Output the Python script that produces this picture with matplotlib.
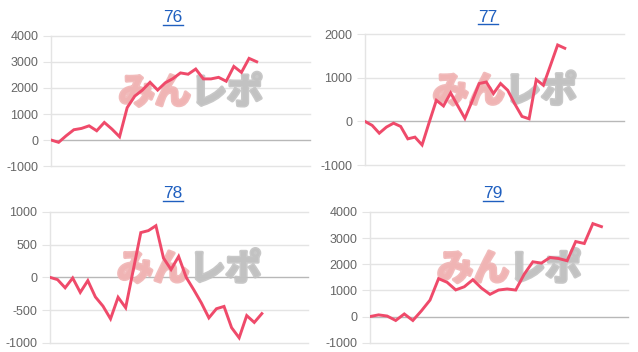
import matplotlib
matplotlib.use('Agg')
import matplotlib.pyplot as plt
from matplotlib.lines import Line2D
import matplotlib.patheffects as pe

# ---- data ----
titles = ['76', '77', '78', '79']

values_76 = [0, -90, 165, 395, 445, 545, 355, 675, 420, 125, 1245, 1690, 1920, 2220,
             1920, 2200, 2360, 2580, 2530, 2730, 2350, 2350, 2410, 2260, 2830, 2600,
             3140, 3010]
values_77 = [0, -90, -270, -130, -40, -115, -400, -360, -540, -20, 485, 355, 655, 360,
             70, 460, 870, 905, 640, 870, 715, 400, 115, 60, 960, 830, 1290, 1755, 1680]
values_78 = [0, -35, -160, -10, -230, -50, -300, -440, -635, -305, -465, 110, 685, 715,
             790, 295, 120, 320, 0, -190, -390, -620, -480, -445, -770, -925, -585,
             -690, -555]
values_79 = [0, 65, 20, -150, 100, -150, 220, 630, 1450, 1310, 1020, 1140, 1410, 1090,
             850, 1015, 1055, 1015, 1625, 2095, 2045, 2260, 2220, 2135, 2870, 2795,
             3555, 3440]

yticks_76 = [-1000, 0, 1000, 2000, 3000, 4000]
yticks_77 = [-1000, 0, 1000, 2000]
yticks_78 = [-1000, -500, 0, 500, 1000]
yticks_79 = [-1000, 0, 1000, 2000, 3000, 4000]

series = [values_76, values_77, values_78, values_79]
ytick_sets = [yticks_76, yticks_77, yticks_78, yticks_79]

# ---- layout (pixels) ----
W, H = 638, 352
boxes = [(51, 310, 36, 166), (365, 624, 34.3, 165), (50, 308, 212, 342.7), (370, 628, 212, 342.7)]
slots = [34, 36.3, 34.1, 30.1]
title_pos = [(173, 18), (488, 17), (173, 194), (493, 194)]

line_color = '#ef4a6a'
grid_color = '#e4e4e4'
zero_color = '#b8b8b8'
tick_color = '#666666'
title_color = '#1f5fbf'

fig = plt.figure(figsize=(W / 100, H / 100), dpi=100)

for i in range(4):
    L, R, T, B = boxes[i]
    ax = fig.add_axes([L / W, 1 - B / H, (R - L) / W, (B - T) / H])
    vals = series[i]
    ticks = ytick_sets[i]
    ax.plot(range(len(vals)), vals, color=line_color, lw=2.1, zorder=3,
            solid_joinstyle='miter')
    ax.set_xlim(0, slots[i])
    ax.set_ylim(ticks[0], ticks[-1])
    ax.set_yticks(ticks)
    ax.set_yticklabels([str(t) for t in ticks])
    ax.set_xticks([])
    for t in ticks:
        ax.axhline(t, color=zero_color if t == 0 else grid_color, lw=1.0, zorder=1,
                   clip_on=False)
    for s in ['top', 'right', 'bottom']:
        ax.spines[s].set_visible(False)
    ax.spines['left'].set_color(grid_color)
    ax.spines['left'].set_linewidth(1.0)
    ax.tick_params(axis='y', length=6, color=grid_color, pad=3,
                   labelsize=9, labelcolor=tick_color)
    for lab in ax.get_yticklabels():
        lab.set_family('Liberation Sans')

    # watermark
    ax.text(0.54, 0.56, 'みん', transform=ax.transAxes, ha='right', va='center',
            fontsize=26, fontweight='bold', family=['Noto Sans CJK JP'],
            color='#f0b4b4', alpha=0.9, zorder=2,
            path_effects=[pe.withStroke(linewidth=2.5, foreground='#f0b4b4')])
    ax.text(0.54, 0.56, 'レポ', transform=ax.transAxes, ha='left', va='center',
            fontsize=26, fontweight='bold', family=['Noto Sans CJK JP'],
            color='#c2c2c2', alpha=0.9, zorder=2,
            path_effects=[pe.withStroke(linewidth=2.5, foreground='#c2c2c2')])

    tx, ty = title_pos[i]
    fig.text(tx / W, 1 - ty / H, titles[i], ha='center', va='center',
             fontsize=12.5, color=title_color, family='Liberation Sans')

fig.canvas.draw()
renderer = fig.canvas.get_renderer()
for t in list(fig.texts):
    bb = t.get_window_extent(renderer)
    fig.add_artist(Line2D([bb.x0, bb.x1], [bb.y0 + 1, bb.y0 + 1], transform=None,
                          color=title_color, lw=1.0))

fig.savefig('out.png', dpi=100)
